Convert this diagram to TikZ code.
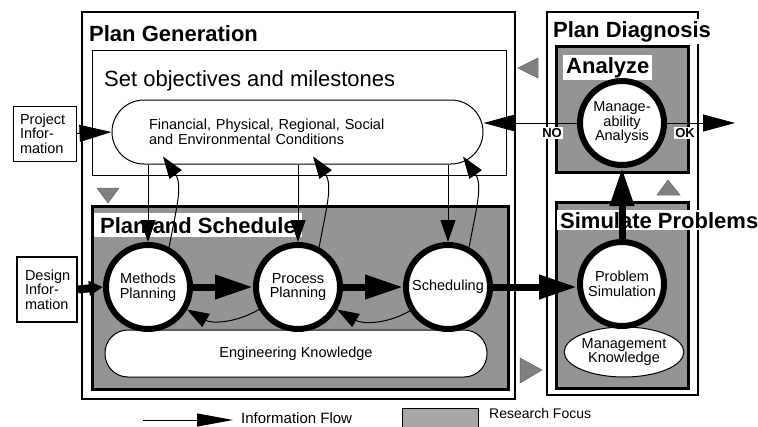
\documentclass[tikz,border=0pt]{standalone}
\usepackage{fontspec}
\setmainfont{Liberation Sans}
\usetikzlibrary{arrows.meta,calc,positioning,shapes.geometric}

\begin{document}
\begin{tikzpicture}[x=1pt,y=-1pt,
  boxtitle/.style={anchor=base west,font=\bfseries\fontsize{22}{22}\selectfont},
  whitetitle/.style={boxtitle,fill=white,inner xsep=3pt,inner ysep=2pt},
  smalltext/.style={font=\fontsize{14.5}{14.5}\selectfont},
  thinbox/.style={draw,line width=1pt},
  focusbox/.style={draw,line width=3pt,fill=black!42},
  activity/.style={circle,draw,line width=6pt,fill=white,minimum size=84pt,align=center,font=\fontsize{14.5}{14.5}\selectfont},
  flow/.style={line width=1pt,-{Triangle[length=22pt,width=15pt]}},
  bigflow/.style={line width=1pt,-{Triangle[length=32pt,width=17pt]}},
  mainflow/.style={line width=7pt,-{Triangle[length=38pt,width=23pt]}},
  marker/.style={fill=black!50,draw=black!60,line width=0.5pt}]
\tikzstyle{every node}+=[inner sep=0pt]
\useasboundingbox (0,0) rectangle (758,426);
\clip (0,0) rectangle (758,426);

% frames
\draw [line width=1.5pt] (82,12) rectangle (515,399);
\draw [line width=1.5pt] (547,12) rectangle (698,395);
\draw [thinbox] (92,50) rectangle (506,175);
\draw [focusbox] (92,206) rectangle (508,389);
\draw [focusbox] (556,46) rectangle (688,172);
\draw [focusbox] (556,202) rectangle (688,388);

% titles
\node [boxtitle] (gentitle) at (89,41) {Plan Generation};
\node [anchor=base west,font=\fontsize{22}{22}\selectfont] (objtitle) at (104,86) {Set objectives and milestones};
\node [whitetitle,inner xsep=6pt,inner ysep=4pt] (schedtitle) at (94,233) {Plan and Schedule};
\node [whitetitle] (diagtitle) at (550,37) {Plan Diagnosis};
\node [whitetitle] (anatitle) at (563,73) {Analyze};
\node [whitetitle] (simtitle) at (557,228) {Simulate Problems};

% inputs and knowledge
\node [thinbox,smalltext,align=left,text width=49pt,inner xsep=7pt,minimum height=55pt] (proj) at (44.5,133.5) {Project\\Infor-\\mation};
\node [draw,line width=2pt,smalltext,align=left,text width=44pt,inner xsep=8pt,minimum height=65pt] (design) at (47,289.5) {Design\\Infor-\\mation};
\node [thinbox,rounded corners=32pt,minimum width=371pt,minimum height=64pt,text width=297pt,inner xsep=37pt,align=left,smalltext] (cond) at (297.5,132) {Financial, Physical, Regional, Social\\and Environmental Conditions};
\node [thinbox,fill=white,rounded corners=23pt,minimum width=382pt,minimum height=47pt,smalltext] (engknow) at (296,353.5) {Engineering Knowledge};
\node [thinbox,fill=white,ellipse,minimum width=108pt,minimum height=50pt,align=center,smalltext] (mgmtknow) at (624,352) {Management\\Knowledge};

% activities
\node [activity] (meth) at (148,287) {Methods\\Planning};
\node [activity] (proc) at (298,287) {Process\\Planning};
\node [activity] (sched) at (448,287) {Scheduling};
\node [activity] (sim) at (622,284) {Problem\\Simulation};
\node [activity] (ana) at (622,123) {Manage-\\ability\\Analysis};

\node [fill=white,inner sep=1pt,font=\bfseries\fontsize{13}{13}\selectfont] (nolabel) at (552,133) {NO};
\node [fill=white,inner sep=1pt,font=\bfseries\fontsize{13}{13}\selectfont] (oklabel) at (685,133) {OK};

% flows
\coordinate (okend) at (735,123);
\draw [bigflow] (proj.east) -- (cond.west);
\draw [line width=8pt,-{Triangle[length=14pt,width=14pt]}] (design.east) -- (meth.west);
\draw [mainflow] (meth.east) -- (proc.west);
\draw [mainflow] (proc.east) -- (sched.west);
\draw [mainflow] (sched.east) -- (sched.east -| sim.west);
\draw [mainflow] (sim.north) -- (ana.south);
\draw [bigflow] (ana.west) -- (ana.west -| cond.east);
\draw [bigflow] (ana.east) -- (okend);
\foreach \act in {meth,proc,sched} {
  \draw [flow] (\act |- cond.south) -- (\act.north);
  \draw [flow] (\act.62) to[out=80,in=-55] ($(\act.north |- cond.south)+(15,-8)$);
}
\draw [flow] (proc.-150) to[out=-150,in=-30] (meth.-30);
\draw [flow] (sched.-148) to[out=-150,in=-30] (proc.-30);

% direction markers
\path [marker] (97,188) -- (119,188) -- (108,203) -- cycle;
\path [marker] (538,58) -- (538,78) -- (518,68) -- cycle;
\path [marker] (657,195) -- (680,195) -- (668,180) -- cycle;
\path [marker] (520,358) -- (520,383) -- (542,370) -- cycle;

% legend
\coordinate (flowstart) at (143,420);
\coordinate (flowend) at (233,420);
\draw [line width=1pt,-{Triangle[length=36pt,width=13pt]}] (flowstart) -- (flowend);
\node [anchor=base west,font=\fontsize{15}{15}\selectfont] (flowtext) at (241,423) {Information Flow};
\draw [thinbox,fill=black!35] (402,408) rectangle (478,440);
\node [anchor=base west,font=\fontsize{14}{14}\selectfont] (focustext) at (489,418) {Research Focus};
\end{tikzpicture}
\end{document}
